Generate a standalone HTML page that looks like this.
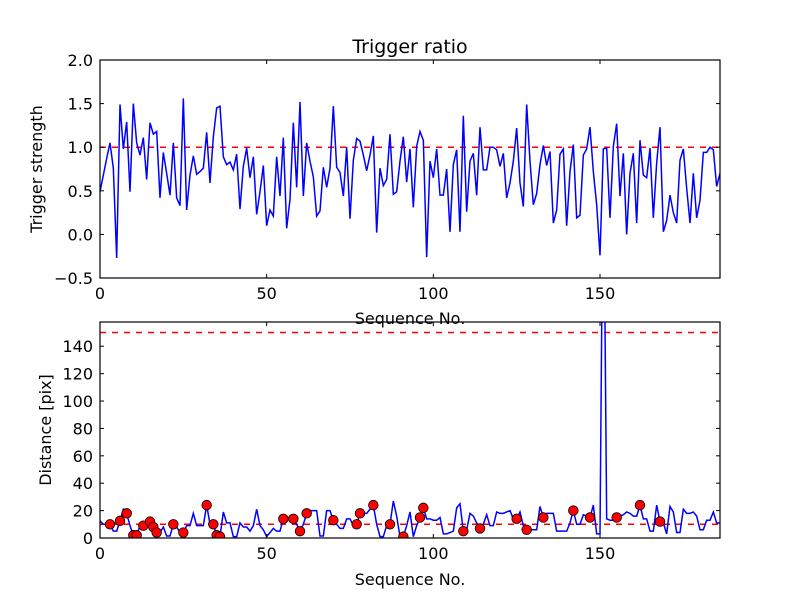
<!DOCTYPE html>
<html><head><meta charset="utf-8"><style>
body{margin:0;background:#fff;}
svg{display:block;font-family:"DejaVu Sans","Liberation Sans",sans-serif;}
</style></head><body>
<svg id="fig" width="800" height="600" xmlns="http://www.w3.org/2000/svg"></svg>
<script>
const seqTop = [0.49,0.68,0.87,1.05,0.76,-0.27,1.49,0.98,1.29,0.49,1.5,1.05,0.91,1.11,0.63,1.28,1.15,1.18,0.42,0.94,0.70,0.45,1.05,0.42,0.33,1.56,0.28,0.68,0.90,0.69,0.72,0.76,1.17,0.59,1.12,1.45,1.47,0.89,0.80,0.83,0.74,0.92,0.29,0.78,0.99,0.65,0.89,0.23,0.49,0.79,0.10,0.28,0.21,0.89,0.44,1.11,0.07,0.40,1.28,0.54,1.52,0.44,1.05,0.84,0.66,0.21,0.27,0.77,0.54,0.76,1.47,0.77,0.71,0.44,1.0,0.18,0.85,1.10,1.07,0.91,0.73,0.91,1.13,0.02,0.76,0.56,0.63,1.15,0.46,0.49,0.84,1.12,0.60,0.98,0.31,1.01,1.18,1.08,-0.26,0.84,0.65,0.98,0.45,0.45,0.75,0.03,0.80,0.97,0.03,1.36,0.26,0.84,0.93,0.45,1.23,0.74,0.74,1.0,1.0,0.97,0.78,0.93,0.42,0.59,0.84,1.22,0.59,0.32,1.49,0.84,0.34,0.47,0.80,1.02,0.79,0.95,0.13,0.28,0.92,0.98,0.10,0.72,1.03,0.19,0.22,0.91,0.98,1.23,0.72,0.34,-0.24,0.98,0.99,0.19,1.01,1.27,0.44,0.93,0.0,0.70,0.93,0.13,1.08,0.68,0.65,0.99,0.19,0.82,1.23,0.03,0.16,0.45,0.25,0.13,0.85,0.98,0.53,0.13,0.70,0.19,0.39,0.94,0.94,1.0,0.97,0.55,0.70];
const distance = [12.5,10,10,10,5,5,12.5,21,18,9,2,2,9,8,13,12,6,4,4,8,1.5,1.5,10,8,4,4,9,9,18,9,9,9,24,10,10,2,1,19,11,11,1,1,11,8,8,5,9,21,9,6,1,4,7,5,5,14,14,14,14,10,5,10,18,20,20,20,1.5,1.5,20,20,13,10,7,7,14,14,9,10,18,18,18,21,24,10,1,1,9,10,27,16,1,1,9,19,1,9,15,22,14,14,13,13,15,3,3,4,5,22,25,5,6,18,16,11,7,10,17,9,9,19,18,18,19,20,14,14,19,9,6,6,6,6,23,15,18,18,18,5,5,5,5,11,20,10,10,17,16,15,24,3,3,300,14,13,13,15,16,17,19,18,16,16,24,14,14,5,5,24,12,11,3,23,19,4,4,21,18,18,19,16,6,6,13,13,19,11,11];
const dotIdx = [3,6,8,10,11,13,15,16,17,22,25,32,34,35,36,55,58,60,62,70,77,78,82,87,91,96,97,109,114,125,128,133,142,147,155,162,168];
const dotVal = [10,12.5,18,2,2,9,12,8,4,10,4,24,10,2,1,14,14,5,18,13,10,18,24,10,1,15,22,5,7,14,6,15,20,15,15,24,12];
const topYTicks = [-0.5,0.0,0.5,1.0,1.5,2.0];
const botYTicks = [0,20,40,60,80,100,120,140];
const xTicks = [0,50,100,150];

const NS='http://www.w3.org/2000/svg';
const svg=document.getElementById('fig');
function mk(tag,attrs,parent){const e=document.createElementNS(NS,tag);for(const k in attrs)e.setAttribute(k,attrs[k]);(parent||svg).appendChild(e);return e;}
const X0=100,X1=720,XMAX=186;
const sx=v=>X0+(v/XMAX)*(X1-X0);
const topA={y0:60,y1:278,min:-0.5,max:2.0};
const botA={y0:322,y1:538,min:0,max:157.7};
const sy=(a,v)=>a.y1-(v-a.min)/(a.max-a.min)*(a.y1-a.y0);
const FS=16;

function axes(a,yt,fmt,name){
  const g=mk('g',{});
  
  
  const clipId='clip-'+name;
  const cp=mk('clipPath',{id:clipId},g);mk('rect',{x:X0,y:a.y0,width:X1-X0,height:a.y1-a.y0},cp);
  const plot=mk('g',{'clip-path':'url(#'+clipId+')'},g);
  
  
  xTicks.forEach(t=>{const x=sx(t);
    mk('line',{x1:x,x2:x,y1:a.y1,y2:a.y1-4,stroke:'#000'},g);
    mk('line',{x1:x,x2:x,y1:a.y0,y2:a.y0+4,stroke:'#000'},g);
    const tx=mk('text',{x:x,y:a.y1+21,'font-size':FS,'text-anchor':'middle'},g);tx.textContent=t;
    
    
  });
  yt.forEach(t=>{const y=sy(a,t);
    mk('line',{x1:X0,x2:X0+4,y1:y,y2:y,stroke:'#000'},g);
    mk('line',{x1:X1,x2:X1-4,y1:y,y2:y,stroke:'#000'},g);
    const tx=mk('text',{x:X0-7,y:y+6,'font-size':FS,'text-anchor':'end'},g);tx.textContent=fmt(t);
    
    
  });
  return {g,plot};
}
function series(plot,a,vals,name){
  const p=mk('polyline',{points:vals.map((v,i)=>sx(i)+','+sy(a,v)).join(' '),fill:'none',stroke:'#0000ff','stroke-width':1.5},plot);
  
  
}
function hline(plot,a,v,name){
  const l=mk('line',{x1:X0,x2:X1,y1:sy(a,v),y2:sy(a,v),stroke:'#ff0000','stroke-width':1.5,'stroke-dasharray':'6,6'},plot);
  
  
}
function frame(a,g){mk('rect',{x:X0,y:a.y0,width:X1-X0,height:a.y1-a.y0,fill:'none',stroke:'#000','stroke-width':1.2},g);}

const T=axes(topA,topYTicks,t=>t.toFixed(1).replace('-','\u2212'),'trigger-axes');
hline(T.plot,topA,1.0,'threshold-line');
series(T.plot,topA,seqTop,'trigger-strength-line');
frame(topA,T.g);
const B=axes(botA,botYTicks,t=>String(t),'distance-axes');
hline(B.plot,botA,150,'upper-threshold-line');
hline(B.plot,botA,10,'lower-threshold-line');
series(B.plot,botA,distance,'distance-line');
dotIdx.forEach((ix,k)=>{
  const c=mk('circle',{cx:sx(ix),cy:sy(botA,dotVal[k]),r:4.8,fill:'#ff0000',stroke:'#000','stroke-width':0.8},B.plot);
  
  
});
frame(botA,B.g);

function label(txt,x,y,size,rot,name){
  const t=mk('text',{x:x,y:y,'font-size':size,'text-anchor':'middle'});
  if(rot)t.setAttribute('transform','rotate(-90 '+x+' '+y+')');
  t.textContent=txt;
  
  
}
label('Trigger ratio',410,53,19,false,'chart-title');
label('Trigger strength',42,169,16,true,'top-y-axis-title');
label('Sequence No.',410,324,16,false,'top-x-axis-title');
label('Distance [pix]',51,430,16,true,'bottom-y-axis-title');
label('Sequence No.',410,585,16,false,'bottom-x-axis-title');
</script>
</body></html>
